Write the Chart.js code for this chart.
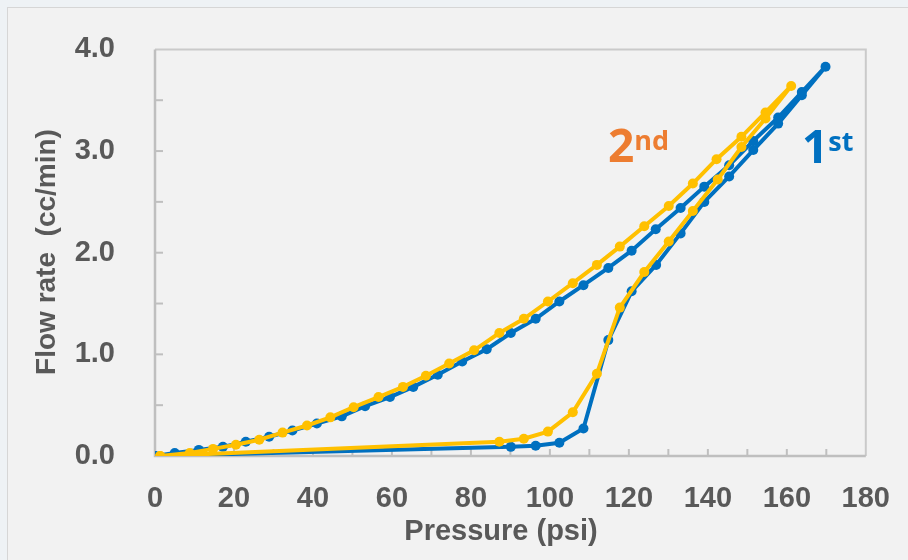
<!DOCTYPE html>
<html>
<head>
<meta charset="utf-8">
<title>Flow rate vs pressure</title>
<script src="https://cdn.jsdelivr.net/npm/chart.js@4.4.0/dist/chart.umd.min.js"></script>
<style>
  html, body { margin: 0; padding: 0; background: #eef2f5; overflow: hidden; }
  #frame { position: absolute; left: 7px; top: 7px; width: 940px; height: 600px; background: #f2f2f2; border: 1px solid #d6d6d6; }
  #wrap { position: absolute; left: 0; top: 0; width: 908px; height: 560px; }
</style>
</head>
<body>
<div id="frame"></div>
<div id="wrap"><canvas id="chart" width="908" height="560"></canvas></div>
<script>
/* 1st run : pressure up, then back down */
const firstPressure = [0, 90.1, 96.4, 102.4, 108.5, 114.8, 120.7, 126.9, 133.1, 139.1, 145.4, 151.5, 157.8, 163.8, 169.8,
  163.8, 157.8, 151.5, 145.4, 139.1, 133.1, 126.8, 120.7, 114.8, 108.5, 102.4, 96.4, 90.1, 84.0, 77.8,
  71.6, 65.4, 59.5, 53.2, 47.3, 41.0, 34.8, 28.9, 23.0, 17.2, 11.1, 5.0, 0];
const firstFlow = [0, 0.09, 0.10, 0.13, 0.27, 1.14, 1.62, 1.88, 2.19, 2.50, 2.75, 3.01, 3.27, 3.55, 3.83,
  3.58, 3.33, 3.10, 2.86, 2.65, 2.44, 2.23, 2.02, 1.85, 1.68, 1.52, 1.35, 1.21, 1.05, 0.93,
  0.80, 0.68, 0.58, 0.49, 0.39, 0.32, 0.25, 0.19, 0.14, 0.09, 0.06, 0.03, 0];

/* 2nd run */
const secondPressure = [1.3, 87.2, 93.4, 99.5, 105.8, 111.9, 117.7, 123.9, 130.1, 136.2, 142.5, 148.5, 154.6, 161.1,
  154.6, 148.5, 142.2, 136.2, 130.1, 123.9, 117.7, 111.9, 105.8, 99.5, 93.4, 87.2, 80.8, 74.5,
  68.6, 62.8, 56.6, 50.3, 44.4, 38.5, 32.3, 26.4, 20.5, 14.7, 8.8, 1.3];
const secondFlow = [0, 0.14, 0.17, 0.24, 0.43, 0.81, 1.46, 1.81, 2.11, 2.41, 2.72, 3.04, 3.32, 3.64,
  3.38, 3.14, 2.92, 2.68, 2.46, 2.26, 2.06, 1.88, 1.70, 1.52, 1.35, 1.21, 1.04, 0.91,
  0.79, 0.68, 0.58, 0.48, 0.38, 0.30, 0.23, 0.16, 0.11, 0.07, 0.03, 0];

const xTitle = 'Pressure (psi)';
const yTitle = 'Flow rate  (cc/min)';
const runLabels = [['1', 'st'], ['2', 'nd']];

const BLUE = '#0070C0';
const YELLOW = '#FFC000';
const ORANGE = '#ED7D31';
const TEXT = '#595959';
const AXIS = '#bfbfbf';

function toPoints(xs, ys) {
  return xs.map((x, i) => ({ x: x, y: ys[i] }));
}

/* frame, axis lines and inside tick marks */
const axesPlugin = {
  id: 'axesPlugin',
  beforeDatasetsDraw(chart) {
    const { ctx, chartArea: { left, top, right, bottom }, scales: { x, y } } = chart;
    ctx.save();
    ctx.strokeStyle = '#cacaca';
    ctx.lineWidth = 2;
    ctx.beginPath();
    ctx.moveTo(left, top);
    ctx.lineTo(right, top);
    ctx.lineTo(right, bottom);
    ctx.stroke();

    ctx.strokeStyle = AXIS;
    ctx.lineWidth = 2.5;
    ctx.beginPath();
    ctx.moveTo(left, top);
    ctx.lineTo(left, bottom);
    ctx.lineTo(right, bottom);
    ctx.stroke();

    ctx.lineWidth = 2;
    for (let v = 10; v < 180; v += 10) {
      const px = x.getPixelForValue(v);
      ctx.beginPath();
      ctx.moveTo(px, bottom);
      ctx.lineTo(px, bottom - 7);
      ctx.stroke();
    }
    for (let v = 0.5; v < 4; v += 0.5) {
      const py = y.getPixelForValue(v);
      ctx.beginPath();
      ctx.moveTo(left, py);
      ctx.lineTo(left + 8, py);
      ctx.stroke();
    }
    ctx.restore();
  },
  afterDraw(chart) {
    const ctx = chart.ctx;
    ctx.save();
    ctx.fillStyle = TEXT;
    ctx.textAlign = 'center';
    ctx.textBaseline = 'middle';
    ctx.font = 'bold 29px "Liberation Sans", Arial, sans-serif';
    ctx.fillText(xTitle, 501, 532);

    ctx.translate(47, 252);
    ctx.rotate(-Math.PI / 2);
    ctx.font = 'bold 28px "Liberation Sans", Arial, sans-serif';
    ctx.fillText(yTitle, 0, 0);
    ctx.restore();

    // run labels with superscript
    drawRunLabel(ctx, runLabels[1], 608, 162, ORANGE);
    drawRunLabel(ctx, runLabels[0], 802, 163, BLUE);
  }
};

function drawRunLabel(ctx, parts, x, baseline, color) {
  ctx.save();
  ctx.fillStyle = color;
  ctx.textAlign = 'left';
  ctx.textBaseline = 'alphabetic';
  ctx.font = 'bold 46px "Open Sans", sans-serif';
  ctx.fillText(parts[0], x, baseline);
  const w = ctx.measureText(parts[0]).width;
  ctx.font = 'bold 27px "Open Sans", sans-serif';
  ctx.fillText(parts[1], x + w, baseline - 12);
  ctx.restore();
}

const tickFont = { family: '"Liberation Sans", Arial, sans-serif', size: 29, weight: 'bold' };

new Chart(document.getElementById('chart'), {
  type: 'scatter',
  data: {
    datasets: [
      {
        label: '1st',
        data: toPoints(firstPressure, firstFlow),
        showLine: true,
        borderColor: BLUE,
        backgroundColor: BLUE,
        borderWidth: 4,
        pointRadius: 5,
        pointBorderWidth: 0,
        order: 2
      },
      {
        label: '2nd',
        data: toPoints(secondPressure, secondFlow),
        showLine: true,
        borderColor: YELLOW,
        backgroundColor: YELLOW,
        borderWidth: 4,
        pointRadius: 5,
        pointBorderWidth: 0,
        order: 1
      }
    ]
  },
  options: {
    responsive: false,
    animation: false,
    layout: { padding: { left: 0, right: 37, top: 49, bottom: 0 } },
    plugins: { legend: { display: false }, tooltip: { enabled: false } },
    scales: {
      x: {
        type: 'linear',
        min: 0,
        max: 180,
        grid: { display: false },
        border: { display: false },
        ticks: { stepSize: 20, color: TEXT, font: tickFont, padding: 18, maxRotation: 0 },
        afterFit: (scale) => { scale.height = 104; }
      },
      y: {
        type: 'linear',
        min: 0,
        max: 4,
        grid: { display: false },
        border: { display: false },
        ticks: { stepSize: 1, color: TEXT, font: tickFont, padding: 32, callback: (v) => v.toFixed(1) },
        afterFit: (scale) => { scale.width = 155; }
      }
    }
  },
  plugins: [axesPlugin]
});
</script>
</body>
</html>
